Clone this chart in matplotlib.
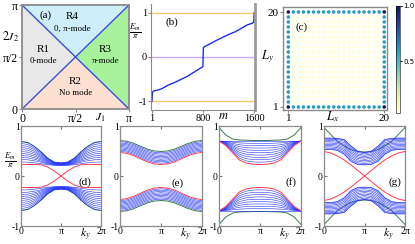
import numpy as np
import matplotlib
matplotlib.use("Agg")
import matplotlib.pyplot as plt

plt.rcParams['font.family'] = ['Liberation Serif', 'DejaVu Serif']
plt.rcParams['mathtext.fontset'] = 'stix'

PI = np.pi
W, H = 415, 244

# ---------------- (a) phase diagram ----------------
phase_names = ['R1', 'R2', 'R3', 'R4']
phase_modes = ['0-mode', 'No mode', 'π-mode', '0, π-mode']
phase_colors = ['#e8e8e8', '#fde0cf', '#a8f29c', '#cdeefa']
phase_vertices = [
    [(0, 0), (PI / 2, PI / 2), (0, PI)],
    [(0, 0), (PI, 0), (PI / 2, PI / 2)],
    [(PI, 0), (PI, PI), (PI / 2, PI / 2)],
    [(0, PI), (PI / 2, PI / 2), (PI, PI)],
]
boundary_x = [[0, PI], [0, PI]]
boundary_y = [[0, PI], [PI, 0]]

# ---------------- (b) quasienergy spectrum ----------------
m_idx = [1, 3, 6, 20, 60, 150, 250, 350, 450, 550, 650, 720, 760, 785, 797,
         804, 816, 830, 900, 1000, 1100, 1200, 1300, 1400, 1480, 1540, 1575,
         1592, 1596, 1600]
E_m = [-1.0, -0.92, -0.81, -0.77, -0.76, -0.72, -0.64, -0.58, -0.51, -0.44,
       -0.35, -0.29, -0.25, -0.23, -0.21,
       0.21, 0.23, 0.24, 0.29, 0.37, 0.44, 0.51, 0.57, 0.65, 0.72, 0.75, 0.77,
       0.79, 0.9, 1.0]
ref_levels = [-1, 0, 1]
ref_colors = ['#ffc66e', '#c9a6ff', '#ffc66e']

# ---------------- (c) corner-mode density ----------------
n_sites = 20
rho_bulk, rho_edge, rho_corner = 0.03, 0.6, 1.0

# ---------------- (d)-(g) ribbon bands (E/pi at ky = 0, pi/6, ..., pi) ----------------
k_half = [0, PI / 6, PI / 3, PI / 2, 2 * PI / 3, 5 * PI / 6, PI]

d_blue = [
    [0.69, 0.669, 0.591, 0.484, 0.355, 0.277, 0.26],
    [0.65, 0.63, 0.559, 0.46, 0.342, 0.271, 0.255],
    [0.61, 0.592, 0.527, 0.437, 0.329, 0.264, 0.25],
    [0.57, 0.554, 0.495, 0.414, 0.317, 0.258, 0.245],
    [0.53, 0.516, 0.463, 0.391, 0.304, 0.252, 0.24],
    [0.49, 0.477, 0.431, 0.368, 0.291, 0.245, 0.235],
    [0.45, 0.439, 0.399, 0.344, 0.278, 0.239, 0.23],
    [0.41, 0.401, 0.367, 0.321, 0.266, 0.232, 0.225],
    [0.37, 0.363, 0.336, 0.298, 0.253, 0.226, 0.22],
    [0.33, 0.324, 0.304, 0.275, 0.24, 0.22, 0.215],
    [0.28, 0.277, 0.264, 0.246, 0.225, 0.213, 0.21],
]
d_green = [0.69, 0.669, 0.591, 0.484, 0.355, 0.277, 0.26]
d_red = [0.23, 0.23, 0.23, 0.225, 0.18, 0.1, 0.0]

e_blue = [
    [0.494, 0.477, 0.432, 0.370, 0.308, 0.268, 0.256],
    [0.518, 0.501, 0.457, 0.395, 0.334, 0.294, 0.282],
    [0.542, 0.526, 0.481, 0.420, 0.359, 0.320, 0.308],
    [0.566, 0.550, 0.506, 0.445, 0.385, 0.346, 0.334],
    [0.59, 0.574, 0.530, 0.470, 0.411, 0.372, 0.36],
    [0.614, 0.598, 0.555, 0.495, 0.436, 0.397, 0.386],
    [0.638, 0.622, 0.579, 0.520, 0.462, 0.423, 0.412],
    [0.662, 0.646, 0.604, 0.546, 0.487, 0.449, 0.438],
    [0.686, 0.671, 0.628, 0.571, 0.513, 0.475, 0.464],
]
e_green = [0.71, 0.695, 0.653, 0.596, 0.538, 0.501, 0.49]
e_red = [0.47, 0.453, 0.408, 0.345, 0.283, 0.242, 0.23]

f_blue = [
    [0.70, 0.62, 0.484, 0.357, 0.302, 0.281, 0.277],
    [0.70, 0.629, 0.508, 0.395, 0.347, 0.328, 0.324],
    [0.70, 0.637, 0.532, 0.434, 0.391, 0.374, 0.371],
    [0.70, 0.646, 0.556, 0.472, 0.435, 0.421, 0.418],
    [0.70, 0.655, 0.58, 0.51, 0.479, 0.467, 0.465],
    [0.70, 0.664, 0.604, 0.548, 0.523, 0.514, 0.512],
    [0.70, 0.673, 0.628, 0.586, 0.567, 0.56, 0.559],
    [0.70, 0.682, 0.652, 0.624, 0.612, 0.607, 0.606],
    [0.70, 0.691, 0.676, 0.662, 0.656, 0.653, 0.653],
    [0.70, 0.70, 0.70, 0.70, 0.70, 0.70, 0.70],
]
f_green = [0.97, 0.82, 0.74, 0.72, 0.715, 0.71, 0.71]
f_red = [0.70, 0.611, 0.460, 0.319, 0.258, 0.235, 0.23]

g_blue = [
    [0.53, 0.53, 0.51, 0.43, 0.29, 0.23, 0.22],
    [0.537, 0.537, 0.519, 0.440, 0.301, 0.237, 0.228],
    [0.558, 0.558, 0.541, 0.467, 0.329, 0.262, 0.25],
    [0.583, 0.583, 0.567, 0.501, 0.363, 0.292, 0.278],
    [0.608, 0.608, 0.594, 0.534, 0.397, 0.321, 0.305],
    [0.634, 0.634, 0.621, 0.567, 0.432, 0.351, 0.333],
    [0.659, 0.659, 0.648, 0.600, 0.466, 0.381, 0.36],
    [0.684, 0.684, 0.674, 0.633, 0.499, 0.410, 0.388],
    [0.709, 0.709, 0.70, 0.665, 0.533, 0.44, 0.415],
    [0.735, 0.735, 0.728, 0.699, 0.567, 0.469, 0.443],
    [0.753, 0.753, 0.747, 0.722, 0.591, 0.491, 0.463],
    [0.76, 0.76, 0.754, 0.731, 0.60, 0.499, 0.47],
]
g_green = [0.97, 0.83, 0.69, 0.60, 0.53, 0.49, 0.48]
g_red = [0.49, 0.46, 0.40, 0.32, 0.22, 0.11, 0.0]


def px_axes(fig, x0, y0, x1, y1):
    return fig.add_axes([x0 / W, 1 - y1 / H, (x1 - x0) / W, (y1 - y0) / H])


def mirror(v):
    v = np.asarray(v)
    return np.concatenate([v, v[-2::-1]])


def mirror_cross(v):
    v = np.asarray(v)
    return np.concatenate([v, -v[-2::-1]])


k_arr = np.asarray(k_half)
k_full = np.concatenate([k_arr, 2 * PI - k_arr[-2::-1]])

fig = plt.figure(figsize=(W / 100, H / 100), dpi=100)

# ---- (a) ----
ax = px_axes(fig, 22, 5, 129, 109)
for verts, col in zip(phase_vertices, phase_colors):
    xs, ys = zip(*verts)
    ax.fill(xs, ys, color=col, lw=0)
for bx, by in zip(boundary_x, boundary_y):
    ax.plot(bx, by, color='#3a4fe0', lw=1.0)
ax.set_xlim(0, PI)
ax.set_ylim(0, PI)
ax.set_xticks([0, PI / 2, PI])
ax.set_xticklabels(['0', 'π/2', 'π'])
ax.set_yticks([0, PI / 2, PI])
ax.set_yticklabels(['0', 'π/2', 'π'])
ax.tick_params(labelsize=8.5, length=2, pad=1, color='#888')
for s in ax.spines.values():
    s.set_color('#8a8a8a')
    s.set_linewidth(1.3)
txt_pos = [(0.2, 0.52), (0.5, 0.21), (0.78, 0.52), (0.47, 0.83)]
for (tx, ty), nm, md in zip(txt_pos, phase_names, phase_modes):
    ax.text(tx, ty + 0.055, nm, transform=ax.transAxes, ha='center', va='center', fontsize=8)
    ax.text(tx, ty - 0.055, md, transform=ax.transAxes, ha='center', va='center', fontsize=6.5)
ax.text(0.22, 0.9, '(a)', transform=ax.transAxes, ha='center', va='center', fontsize=8)
ax.text(-0.11, 0.69, r'$2J_2$', transform=ax.transAxes, ha='center', va='center', fontsize=8.5)
ax.text(0.73, -0.08, r'$J_1$', transform=ax.transAxes, ha='center', va='center', fontsize=8.5)

# ---- (b) ----
ax = px_axes(fig, 151, 4, 255, 110)
for lv, c in zip(ref_levels, ref_colors):
    ax.axhline(lv, color=c, lw=1.0)
ax.plot(m_idx, E_m, color='#1f2cf0', lw=1.0)
ax.set_xlim(-15, 1612)
ax.set_ylim(-1.2, 1.2)
ax.set_xticks([1, 800, 1600])
ax.set_yticks([-1, 0, 1])
ax.set_yticklabels(['-1', '0', '1'])
ax.tick_params(labelsize=7.5, length=2, pad=1, color='#888')
for s in ax.spines.values():
    s.set_color('#8a8a8a')
    s.set_linewidth(0.8)
ax.spines['right'].set_linewidth(2.0)
ax.spines['right'].set_color('#9a9a9a')
ax.spines['top'].set_visible(False)
ax.text(0.2, 0.83, '(b)', transform=ax.transAxes, ha='center', va='center', fontsize=8)
ax.text(-0.15, 0.74, r'$\frac{E_m}{\pi}$', transform=ax.transAxes, ha='center', va='center', fontsize=9)
ax.text(0.7, -0.06, r'$m$', transform=ax.transAxes, ha='center', va='center', fontsize=9)

# ---- (c) ----
ax = px_axes(fig, 283, 7, 387, 110)
rho = np.full((n_sites, n_sites), rho_bulk)
rho[0, :] = rho[-1, :] = rho[:, 0] = rho[:, -1] = rho_edge
rho[0, 0] = rho[0, -1] = rho[-1, 0] = rho[-1, -1] = rho_corner
gx, gy = np.meshgrid(np.arange(1, n_sites + 1), np.arange(1, n_sites + 1))
sc = ax.scatter(gx.ravel(), gy.ravel(), c=rho.ravel(), cmap='YlGnBu', s=6.5, lw=0)
ax.set_xlim(-0.05, 20.55)
ax.set_ylim(0.4, 21.0)
ax.set_xticks([1, 20])
ax.set_yticks([1, 20])
ax.tick_params(labelsize=8, length=2, pad=1, color='#888')
for s in ax.spines.values():
    s.set_color('#8a8a8a')
    s.set_linewidth(1.0)
ax.text(0.18, 0.8, '(c)', transform=ax.transAxes, ha='center', va='center', fontsize=8)
ax.text(-0.15, 0.52, r'$L_y$', transform=ax.transAxes, ha='center', va='center', fontsize=9)
ax.text(0.48, -0.06, r'$L_x$', transform=ax.transAxes, ha='center', va='center', fontsize=9)
cax = px_axes(fig, 396, 6, 400, 113)
cb = fig.colorbar(sc, cax=cax)
cb.set_ticks([0.5, 1.0])
cb.ax.tick_params(labelsize=5, length=1.5, pad=1)
for t in cb.ax.get_yticklabels():
    t.set_family('DejaVu Sans')
cb.outline.set_linewidth(0.4)

# ---- (d)-(g) ----
panels = [
    ((21, 101), d_blue, d_red, d_green, True, '(d)', (0.8, 0.44)),
    ((120, 202), e_blue, e_red, e_green, False, '(e)', (0.7, 0.43)),
    ((219, 301), f_blue, f_red, f_green, False, '(f)', (0.88, 0.44)),
    ((324, 405), g_blue, g_red, g_green, True, '(g)', (0.88, 0.44)),
]
for i, ((x0, x1), blue, red, green, cross, tag, tpos) in enumerate(panels):
    ax = px_axes(fig, x0, 126, x1, 226)
    gv = mirror(green)
    ax.plot(k_full, gv, color='#3a7a4a', lw=0.7)
    ax.plot(k_full, -gv, color='#3a7a4a', lw=0.7)
    for line in blue:
        bv = mirror(line)
        ax.plot(k_full, bv, color='#1f30ff', lw=0.4)
        ax.plot(k_full, -bv, color='#1f30ff', lw=0.4)
    rv = mirror_cross(red) if cross else mirror(red)
    ax.plot(k_full, rv, color='#ff3b4e', lw=0.7)
    ax.plot(k_full, -rv, color='#ff3b4e', lw=0.7)
    ax.set_xlim(0, 2 * PI)
    ax.set_ylim(-1, 1)
    ax.set_xticks([0, PI, 2 * PI])
    ax.set_xticklabels(['0', 'π', '2π'])
    ax.set_yticks([-1, 0, 1])
    ax.set_yticklabels(['-1', '0', '1'])
    ax.tick_params(labelsize=7, length=2, pad=1, direction='in', top=True, color='#777')
    for s in ax.spines.values():
        s.set_color('#8a8a8a')
        s.set_linewidth(0.9)
    ax.text(tpos[0], tpos[1], tag, transform=ax.transAxes, ha='center', va='center', fontsize=8)
    ax.text(0.8, -0.09, r'$k_y$', transform=ax.transAxes, ha='center', va='center', fontsize=8.5)
    if i == 0:
        ax.text(-0.14, 0.66, r'$\frac{E_m}{\pi}$', transform=ax.transAxes, ha='center', va='center', fontsize=9)

fig.savefig('out.png', dpi=100)
